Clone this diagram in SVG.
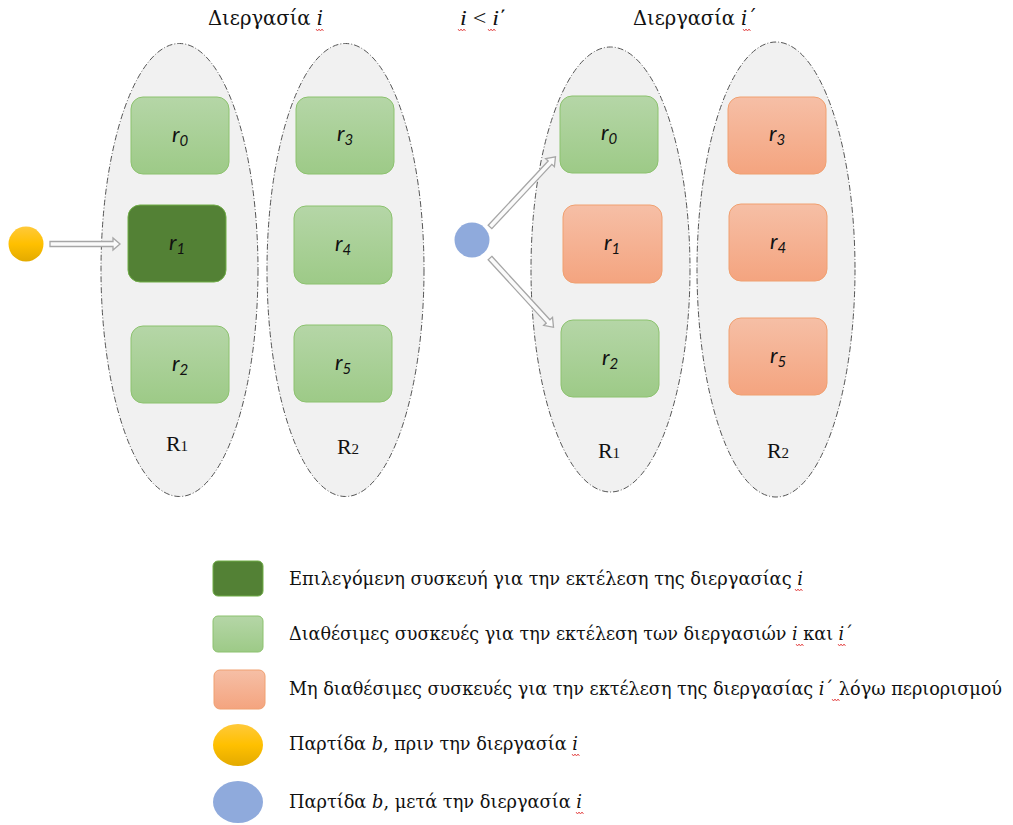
<svg xmlns="http://www.w3.org/2000/svg" width="1013" height="825" viewBox="0 0 1013 825">
  <defs>
    <linearGradient id="gGreen" x1="0" y1="0" x2="0" y2="1">
      <stop offset="0" stop-color="#b5d6a7"/>
      <stop offset="1" stop-color="#9dca87"/>
    </linearGradient>
    <linearGradient id="gOrange" x1="0" y1="0" x2="0" y2="1">
      <stop offset="0" stop-color="#f6bfa6"/>
      <stop offset="1" stop-color="#f4a47f"/>
    </linearGradient>
    <linearGradient id="gYellow" x1="0" y1="0" x2="0" y2="1">
      <stop offset="0" stop-color="#ffc93a"/>
      <stop offset="0.5" stop-color="#ffc000"/>
      <stop offset="1" stop-color="#e3aa00"/>
    </linearGradient>
    <!-- red wavy spell-check underline -->
    <path id="squig" d="M0,0 l1.5,2 l1.5,-2 l1.5,2 l1.5,-2 l1.5,2" fill="none" stroke="#e03030" stroke-width="0.8"/>
  </defs>
  <style>
    .ell { fill: #f1f1f1; stroke: #555; stroke-width: 1; stroke-dasharray: 6 2 1 2; }
    .green { fill: url(#gGreen); stroke: #8cc26e; stroke-width: 1; }
    .dark { fill: #538135; stroke: #70ad47; stroke-width: 1; }
    .orange { fill: url(#gOrange); stroke: #f0a070; stroke-width: 1; }
    .lbl { font-family: Lato, "Open Sans", "DejaVu Sans", sans-serif; font-style: italic; font-size: 22px; fill: #111; text-anchor: middle; }
    .sub { font-size: 15px; }
    .serif { font-family: "Liberation Serif", "Times New Roman", serif; fill: #111; }
    .greek { font-family: "DejaVu Serif", "Liberation Serif", serif; fill: #111; }
    .title { font-size: 21px; }
    .leg { font-size: 19px; }
    .cap { font-size: 22px; text-anchor: middle; }
    .capsub { font-size: 15px; }
    .arrow { fill: #fafafa; stroke: #a6a6a6; stroke-width: 1.3; }
  </style>

  <!-- headings -->
  <text class="greek title" x="208" y="25" textLength="115" lengthAdjust="spacingAndGlyphs">Διεργασία <tspan font-style="italic">i</tspan></text>
  <use href="#squig" x="316" y="29"/>
  <text class="serif title" x="460" y="25" textLength="47" lengthAdjust="spacingAndGlyphs"><tspan font-style="italic">i</tspan> &lt; <tspan font-style="italic">i</tspan>΄</text>
  <use href="#squig" x="458" y="29"/>
  <use href="#squig" x="488" y="29"/>
  <text class="greek title" x="633" y="25" textLength="124" lengthAdjust="spacingAndGlyphs">Διεργασία <tspan font-style="italic">i</tspan>΄</text>
  <use href="#squig" x="743" y="29"/>

  <!-- resource groups -->
  <g id="group-R1-left">
    <ellipse class="ell" cx="179.5" cy="270" rx="78.5" ry="226.5"/>
    <text class="serif cap" x="177" y="451">R<tspan class="capsub">1</tspan></text>
  </g>
  <g id="group-R2-left">
    <ellipse class="ell" cx="345.5" cy="270" rx="78.5" ry="226.5"/>
    <text class="serif cap" x="348" y="454">R<tspan class="capsub">2</tspan></text>
  </g>
  <g id="group-R1-right">
    <ellipse class="ell" cx="610.5" cy="269.5" rx="79.5" ry="222.5"/>
    <text class="serif cap" x="609" y="458">R<tspan class="capsub">1</tspan></text>
  </g>
  <g id="group-R2-right">
    <ellipse class="ell" cx="776" cy="269.5" rx="79" ry="227.5"/>
    <text class="serif cap" x="778" y="458">R<tspan class="capsub">2</tspan></text>
  </g>

  <!-- devices, left -->
  <g id="r0-left">
    <rect class="green" x="131" y="97" width="98" height="77" rx="12"/>
    <text class="lbl" x="180" y="142">r<tspan class="sub" dy="4">0</tspan></text>
  </g>
  <g id="r1-left">
    <rect class="dark" x="128" y="205" width="98" height="77" rx="12"/>
    <text class="lbl" x="177" y="250">r<tspan class="sub" dy="4">1</tspan></text>
  </g>
  <g id="r2-left">
    <rect class="green" x="131" y="326" width="98" height="77" rx="12"/>
    <text class="lbl" x="180" y="371">r<tspan class="sub" dy="4">2</tspan></text>
  </g>
  <g id="r3-left">
    <rect class="green" x="296" y="97" width="98" height="77" rx="12"/>
    <text class="lbl" x="345" y="141">r<tspan class="sub" dy="4">3</tspan></text>
  </g>
  <g id="r4-left">
    <rect class="green" x="294" y="206" width="98" height="78" rx="12"/>
    <text class="lbl" x="343" y="251">r<tspan class="sub" dy="4">4</tspan></text>
  </g>
  <g id="r5-left">
    <rect class="green" x="294" y="325" width="98" height="77" rx="12"/>
    <text class="lbl" x="343" y="370">r<tspan class="sub" dy="4">5</tspan></text>
  </g>

  <!-- devices, right -->
  <g id="r0-right">
    <rect class="green" x="560" y="96" width="98" height="77" rx="12"/>
    <text class="lbl" x="609" y="140">r<tspan class="sub" dy="4">0</tspan></text>
  </g>
  <g id="r1-right">
    <rect class="orange" x="563" y="205" width="99" height="78" rx="12"/>
    <text class="lbl" x="612" y="250">r<tspan class="sub" dy="4">1</tspan></text>
  </g>
  <g id="r2-right">
    <rect class="green" x="561" y="320" width="98" height="77" rx="12"/>
    <text class="lbl" x="610" y="365">r<tspan class="sub" dy="4">2</tspan></text>
  </g>
  <g id="r3-right">
    <rect class="orange" x="728" y="97" width="98" height="77" rx="12"/>
    <text class="lbl" x="777" y="141">r<tspan class="sub" dy="4">3</tspan></text>
  </g>
  <g id="r4-right">
    <rect class="orange" x="729" y="204" width="98" height="77" rx="12"/>
    <text class="lbl" x="778" y="249">r<tspan class="sub" dy="4">4</tspan></text>
  </g>
  <g id="r5-right">
    <rect class="orange" x="729" y="318" width="98" height="77" rx="12"/>
    <text class="lbl" x="778" y="363">r<tspan class="sub" dy="4">5</tspan></text>
  </g>

  <!-- batches -->
  <g id="batch-before">
    <circle cx="26" cy="244" r="17.5" fill="url(#gYellow)"/>
  </g>
  <g id="batch-after">
    <circle cx="472" cy="240" r="17.5" fill="#8faadc"/>
  </g>

  <!-- connectors -->
  <g id="connectors">
    <path class="arrow" d="M50,241.5 H113 V238 L120,244 L113,250 V246.5 H50 Z"/>
    <g transform="translate(490,227) rotate(-47)">
      <path class="arrow" d="M0,-2.5 H88 V-6 L96,0 L88,6 V2.5 H0 Z"/>
    </g>
    <g transform="translate(490,258) rotate(47.5)">
      <path class="arrow" d="M0,-2.5 H86 V-6 L94,0 L86,6 V2.5 H0 Z"/>
    </g>
  </g>

  <!-- legend -->
  <g id="legend">
    <rect class="dark" x="213" y="561" width="50" height="35" rx="5"/>
    <text class="greek leg" x="289" y="585" textLength="514" lengthAdjust="spacingAndGlyphs">Επιλεγόμενη συσκευή για την εκτέλεση της διεργασίας <tspan font-style="italic">i</tspan></text>
    <use href="#squig" x="795" y="589"/>
    <rect class="green" x="213" y="616" width="50" height="36" rx="5"/>
    <text class="greek leg" x="289" y="640" textLength="564" lengthAdjust="spacingAndGlyphs">Διαθέσιμες συσκευές για την εκτέλεση των διεργασιών <tspan font-style="italic">i</tspan> και <tspan font-style="italic">i</tspan>΄</text>
    <use href="#squig" x="796" y="644"/>
    <use href="#squig" x="838" y="644"/>
    <rect class="orange" x="214" y="670" width="51" height="39" rx="6"/>
    <text class="greek leg" x="289" y="695" textLength="713" lengthAdjust="spacingAndGlyphs">Μη διαθέσιμες συσκευές για την εκτέλεση της διεργασίας <tspan font-style="italic">i</tspan>΄ λόγω περιορισμού</text>
    <use href="#squig" x="832" y="699"/>
    <ellipse cx="238" cy="745" rx="25" ry="21" fill="url(#gYellow)"/>
    <text class="greek leg" x="289" y="750" textLength="289" lengthAdjust="spacingAndGlyphs">Παρτίδα <tspan font-style="italic">b</tspan>, πριν την διεργασία <tspan font-style="italic">i</tspan></text>
    <use href="#squig" x="572" y="754"/>
    <ellipse cx="238" cy="802" rx="25" ry="21" fill="#8faadc"/>
    <text class="greek leg" x="289" y="808" textLength="293" lengthAdjust="spacingAndGlyphs">Παρτίδα <tspan font-style="italic">b</tspan>, μετά την διεργασία <tspan font-style="italic">i</tspan></text>
    <use href="#squig" x="576" y="812"/>
  </g>
</svg>
